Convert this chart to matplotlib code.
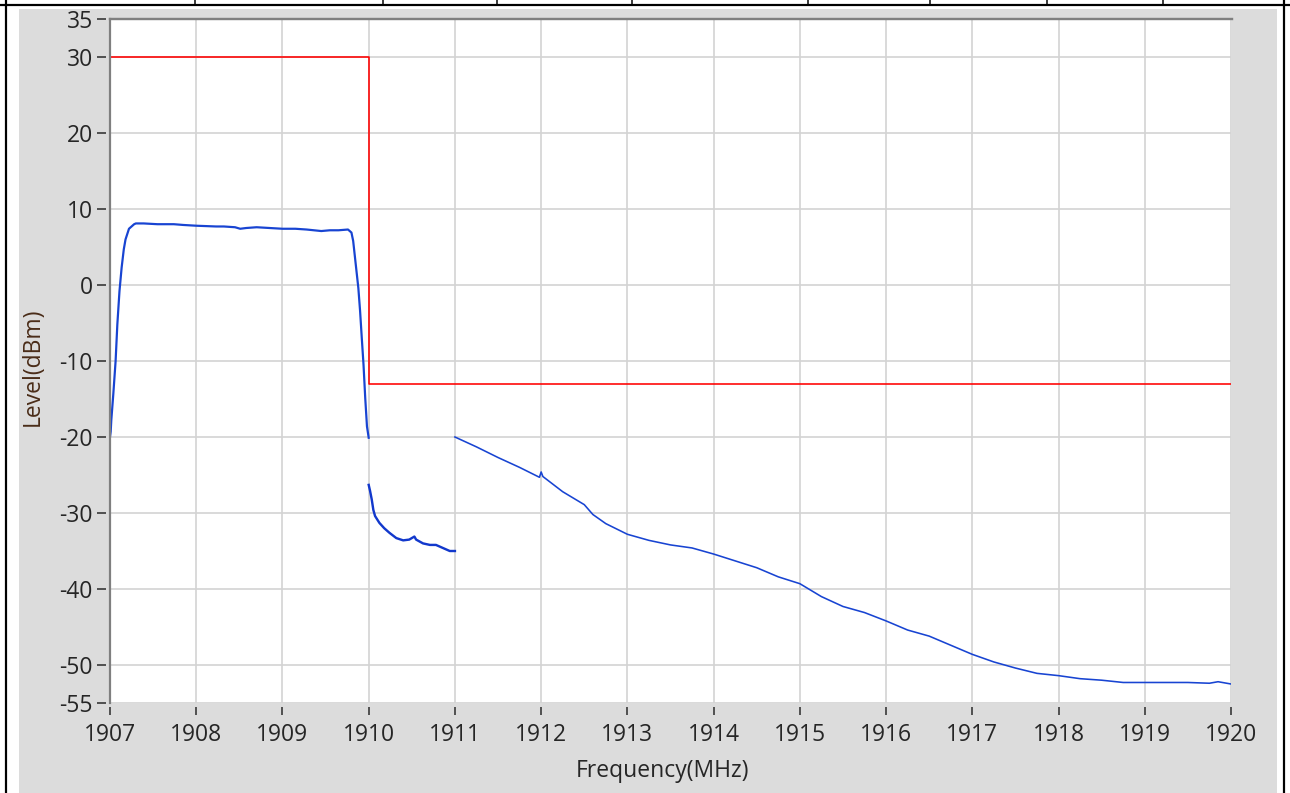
"""Spectrum emission mask plot: measured level vs frequency against the limit line."""

import matplotlib

matplotlib.use("Agg")
import matplotlib.pyplot as plt
from matplotlib.lines import Line2D
from matplotlib.patches import Rectangle

# --- limit line (red) ---
mask_freq = [1907.0, 1910.0, 1910.0, 1920.0]
mask_level = [30.0, 30.0, -13.0, -13.0]

# --- measured trace, three separate sweeps (blue) ---
in_band_freq = [
    1907.0, 1907.008, 1907.015, 1907.038, 1907.065, 1907.085, 1907.11, 1907.135,
    1907.16, 1907.18, 1907.22, 1907.28, 1907.3, 1907.39, 1907.55, 1907.74,
    1907.85, 1908.0, 1908.23, 1908.32, 1908.45, 1908.51, 1908.58, 1908.70,
    1908.85, 1909.0, 1909.15, 1909.28, 1909.45, 1909.55, 1909.65, 1909.76,
    1909.80, 1909.82, 1909.85, 1909.88, 1909.90, 1909.92, 1909.94, 1909.96,
    1909.98, 1910.0,
]
in_band_level = [
    -20.0, -19.3, -17.8, -14.4, -10.0, -5.2, -0.8, 2.3,
    4.7, 6.0, 7.4, 8.0, 8.1, 8.1, 8.0, 8.0,
    7.9, 7.8, 7.7, 7.7, 7.6, 7.4, 7.5, 7.6,
    7.5, 7.4, 7.4, 7.3, 7.1, 7.2, 7.2, 7.3,
    6.9, 5.8, 2.7, -0.4, -3.4, -7.0, -10.5, -14.9,
    -18.6, -20.1,
]

near_freq = [
    1910.0, 1910.016, 1910.035, 1910.054, 1910.074, 1910.124, 1910.18, 1910.24,
    1910.32, 1910.40, 1910.47, 1910.53, 1910.55, 1910.63, 1910.71, 1910.78,
    1910.86, 1910.94, 1911.0,
]
near_level = [
    -26.3, -27.1, -28.2, -29.6, -30.4, -31.3, -32.0, -32.6,
    -33.3, -33.6, -33.5, -33.1, -33.5, -34.0, -34.2, -34.2,
    -34.6, -35.0, -35.0,
]

far_freq = [
    1911.0, 1911.25, 1911.5, 1911.75, 1911.98, 1912.0, 1912.02, 1912.25,
    1912.5, 1912.6, 1912.75, 1913.0, 1913.25, 1913.5, 1913.75, 1914.0,
    1914.25, 1914.5, 1914.75, 1915.0, 1915.25, 1915.5, 1915.75, 1916.0,
    1916.25, 1916.5, 1916.75, 1917.0, 1917.25, 1917.5, 1917.75, 1918.0,
    1918.25, 1918.5, 1918.75, 1919.0, 1919.5, 1919.75, 1919.85, 1920.0,
]
far_level = [
    -20.0, -21.3, -22.7, -24.0, -25.3, -24.6, -25.2, -27.2,
    -28.9, -30.2, -31.4, -32.8, -33.6, -34.2, -34.6, -35.4,
    -36.3, -37.2, -38.4, -39.3, -41.0, -42.3, -43.1, -44.2,
    -45.4, -46.2, -47.4, -48.6, -49.6, -50.4, -51.1, -51.4,
    -51.8, -52.0, -52.3, -52.3, -52.3, -52.4, -52.2, -52.5,
]

x_ticks = list(range(1907, 1921))
y_ticks = [35, 30, 20, 10, 0, -10, -20, -30, -40, -50, -55]

W, H = 1290, 793
TEXT = "#262626"
PX = 72 / 100  # points per pixel at dpi 100


def main():
    plt.rcParams["font.family"] = ["Open Sans", "DejaVu Sans"]
    plt.rcParams["axes.unicode_minus"] = False
    fig = plt.figure(figsize=(W / 100, H / 100), dpi=100, facecolor="white")

    # window chrome: grey panel and black table lines
    fig.patches.append(Rectangle((19 / W, 0), (1277 - 19) / W, 1 - 9 / H,
                                 transform=fig.transFigure, facecolor="#dcdcdc",
                                 edgecolor="none", zorder=-5))
    y_top = 1 - 4.5 / H
    fig.lines.append(Line2D([0, 1], [y_top, y_top], transform=fig.transFigure,
                            color="black", lw=2.2 * PX, zorder=-4))
    for xp in [5.5, 1284]:
        fig.lines.append(Line2D([xp / W, xp / W], [0, 1], transform=fig.transFigure,
                                color="black", lw=2.2 * PX, zorder=-4))
    for xp in [195, 383, 497, 632, 808, 930, 1047, 1163]:
        fig.lines.append(Line2D([xp / W, xp / W], [y_top, 1], transform=fig.transFigure,
                                color="black", lw=1.5 * PX, zorder=-4))

    left, right, top, bottom = 110, 1231, 19, 703
    ax = fig.add_axes([left / W, 1 - bottom / H, (right - left) / W, (bottom - top) / H])
    ax.set_facecolor("white")

    ax.plot(mask_freq, mask_level, color="#ff0000", lw=1.6 * PX, zorder=3)
    ax.plot(in_band_freq, in_band_level, color="#1844d2", lw=2.2 * PX, zorder=4)
    ax.plot(near_freq, near_level, color="#1238cc", lw=2.4 * PX, zorder=4)
    ax.plot(far_freq, far_level, color="#1844d2", lw=1.6 * PX, zorder=4)

    ax.set_xlim(1907, 1920)
    ax.set_ylim(-55, 35)
    ax.set_xticks(x_ticks)
    ax.set_yticks(y_ticks)
    ax.grid(True, color="#d4d4d4", lw=1.7 * PX, zorder=1)
    ax.set_axisbelow(True)

    for side in ["right", "bottom", "left", "top"]:
        ax.spines[side].set_visible(False)
    ax.spines["left"].set_position(("outward", 4 * PX))
    ax.spines["bottom"].set_position(("outward", 4 * PX))
    # plot frame: dark grey on left and top only
    ax.plot([0, 0], [0, 1], transform=ax.transAxes, color="#7f7f7f", lw=2.2 * PX,
            clip_on=False, zorder=5)
    ax.plot([0, 1.001], [1, 1], transform=ax.transAxes, color="#7f7f7f", lw=2.4 * PX,
            clip_on=False, zorder=5)

    ax.tick_params(axis="both", colors=TEXT, labelsize=16.5, width=1.5 * PX)
    ax.tick_params(axis="y", length=9 * PX, pad=4 * PX)
    ax.tick_params(axis="x", length=8 * PX, pad=8 * PX)

    ax.set_xlabel("Frequency(MHz)", fontsize=16.5, color=TEXT)
    ax.set_ylabel("Level(dBm)", fontsize=16.5, color="#4a2c18")
    ax.xaxis.set_label_coords((662 - left) / (right - left), -(759 - bottom) / (bottom - top))
    ax.yaxis.set_label_coords(-(left - 45) / (right - left), (bottom - 367) / (bottom - top))

    fig.savefig("out.png", dpi=100, facecolor="white")


if __name__ == "__main__":
    main()
